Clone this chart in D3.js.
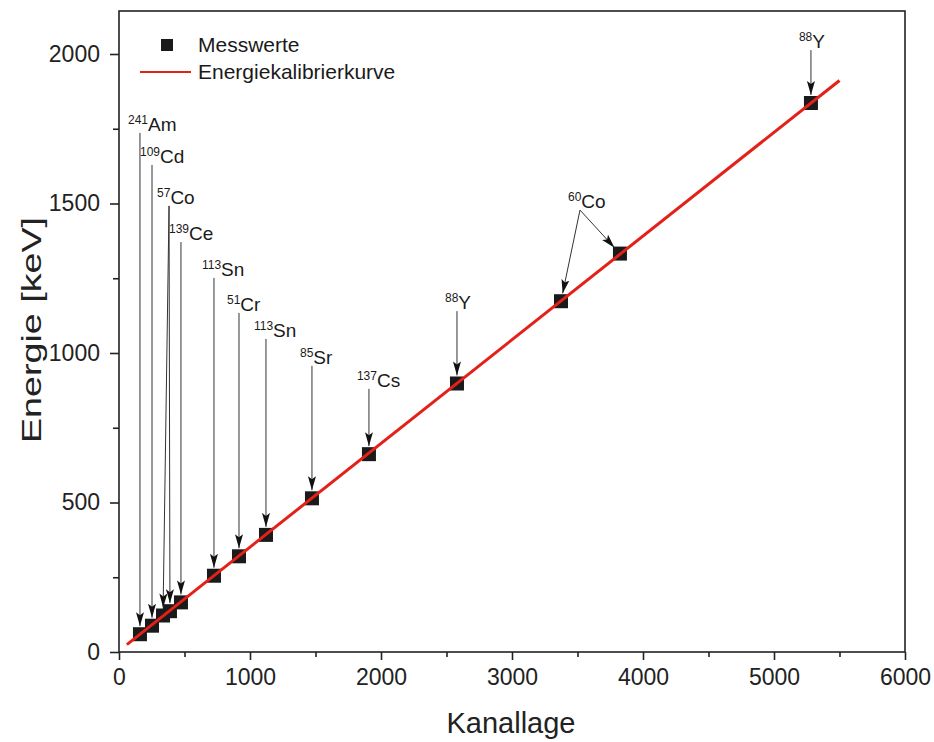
<!DOCTYPE html>
<html>
<head>
<meta charset="utf-8">
<script src="https://cdn.jsdelivr.net/npm/d3@7"></script>
<style>
  html, body { margin: 0; padding: 0; background: #fff; }
  svg { display: block; font-family: "Liberation Sans", Arial, sans-serif; }
</style>
</head>
<body>
<svg id="chart" width="934" height="742"></svg>
<script>
// Measured calibration peaks: channel position and known gamma energy (keV)
const nuclides  = ["241Am", "109Cd", "57Co", "57Co", "139Ce", "113Sn", "51Cr", "113Sn", "85Sr", "137Cs", "88Y", "60Co", "60Co", "88Y"];
const channels  = [160, 252, 336, 389, 473, 725, 916, 1122, 1473, 1908, 2580, 3374, 3824, 5282];
const energies  = [59.5, 88.0, 122.1, 136.5, 165.9, 255.1, 320.1, 391.7, 514.0, 661.7, 898.0, 1173.2, 1332.5, 1836.1];

// Linear calibration fit E = a + b * channel, drawn over this channel range
const fitIntercept = 4.0;
const fitSlope = 0.3468;
const fitRange = [60, 5500];

// Tick values
const xTicks = [0, 1000, 2000, 3000, 4000, 5000, 6000];
const yTicks = [0, 500, 1000, 1500, 2000];

// Annotation labels: mass number, element, label anchor (channel, energy), indices of points they point to
const labelMass    = ["241", "109", "57", "139", "113", "51", "113", "85", "137", "88", "60", "88"];
const labelElement = ["Am", "Cd", "Co", "Ce", "Sn", "Cr", "Sn", "Sr", "Cs", "Y", "Co", "Y"];
const labelChannel = [160, 252, 382, 473, 725, 916, 1122, 1473, 1908, 2580, 3519, 5282];
const labelEnergy  = [1736, 1629, 1492, 1371, 1251, 1134, 1047, 957, 880, 1140, 1478, 2013];
const labelTargets = [[0], [1], [2, 3], [4], [5], [6], [7], [8], [9], [10], [11, 12], [13]];

const svg = d3.select("#chart");
const margin = { left: 119, right: 29, top: 11, bottom: 90 };
const W = 934, H = 742;
const plotW = W - margin.left - margin.right;
const plotH = H - margin.top - margin.bottom;

const x = d3.scaleLinear().domain([0, 6000]).range([margin.left, margin.left + plotW]);
// y: 0 at bottom frame, 2000 placed ~43 px below frame top
const yTop = 2000 + 43 / ((H - margin.bottom - 54) / 2000);
const y = d3.scaleLinear().domain([0, yTop]).range([H - margin.bottom, margin.top]);

const defs = svg.append("defs");
defs.append("marker")
  .attr("id", "arrow")
  .attr("viewBox", "0 0 14 8")
  .attr("refX", 14).attr("refY", 4)
  .attr("markerWidth", 14).attr("markerHeight", 8)
  .attr("markerUnits", "userSpaceOnUse")
  .attr("orient", "auto")
  .append("path")
  .attr("d", "M0,0 L14,4 L0,8 L3,4 Z")
  .attr("fill", "#111");

// Frame
svg.append("rect")
  .attr("x", margin.left).attr("y", margin.top)
  .attr("width", plotW).attr("height", plotH)
  .attr("fill", "none").attr("stroke", "#222").attr("stroke-width", 1.6);

// Axes
const xAxis = d3.axisBottom(x).tickValues(xTicks).tickSize(8).tickPadding(9).tickFormat(d3.format("d"));
const xMinor = d3.axisBottom(x).tickValues(d3.range(500, 6000, 1000)).tickSize(5).tickFormat("");
const yAxis = d3.axisLeft(y).tickValues(yTicks).tickSize(9).tickPadding(10).tickFormat(d3.format("d"));
const yMinor = d3.axisLeft(y).tickValues(d3.range(250, 2000, 500)).tickSize(6).tickFormat("");

function styleAxis(g) {
  g.select(".domain").remove();
  g.selectAll("line").attr("stroke", "#222").attr("stroke-width", 1.6);
  g.selectAll("text").attr("fill", "#222").style("font-size", "23px").style("font-family", "'Liberation Sans', Arial, sans-serif");
}

svg.append("g").attr("transform", `translate(0,${H - margin.bottom})`).call(xAxis).call(styleAxis);
svg.append("g").attr("transform", `translate(0,${H - margin.bottom})`).call(xMinor).call(styleAxis);
svg.append("g").attr("transform", `translate(${margin.left},0)`).call(yAxis).call(styleAxis);
svg.append("g").attr("transform", `translate(${margin.left},0)`).call(yMinor).call(styleAxis);

// Axis titles
svg.append("text")
  .attr("x", x(3000) - 1).attr("y", 733)
  .attr("text-anchor", "middle")
  .attr("fill", "#222")
  .style("font-size", "29px")
  .text("Kanallage");
svg.append("text")
  .attr("transform", `translate(41,330) rotate(-90)`)
  .attr("text-anchor", "middle")
  .attr("fill", "#222")
  .attr("textLength", 226)
  .attr("lengthAdjust", "spacingAndGlyphs")
  .style("font-size", "28px")
  .text("Energie [keV]");

// Calibration line
const fitLine = d3.line().x(d => x(d)).y(d => y(fitIntercept + fitSlope * d));

// Measured points
const pts = channels.map((c, i) => ({ c, e: energies[i], n: nuclides[i] }));
const sq = 14;
svg.append("g").selectAll("rect")
  .data(pts).join("rect")
  .attr("x", d => x(d.c) - sq / 2)
  .attr("y", d => y(d.e) - sq / 2)
  .attr("width", sq).attr("height", sq)
  .attr("fill", "#1a1a1a");

// Fit line drawn over the markers
svg.append("path")
  .datum(fitRange)
  .attr("d", fitLine)
  .attr("fill", "none")
  .attr("stroke", "#e32119")
  .attr("stroke-width", 3);

// Annotations with arrows
const ann = svg.append("g");
labelMass.forEach((m, i) => {
  const lx = x(labelChannel[i]);
  const ly = y(labelEnergy[i]);
  labelTargets[i].forEach(t => {
    const tx = x(channels[t]);
    const ty = y(energies[t]);
    const dx = tx - lx, dy = ty - ly;
    const len = Math.hypot(dx, dy);
    const stop = len - (sq / 2 + 1);
    ann.append("line")
      .attr("x1", lx).attr("y1", ly)
      .attr("x2", lx + dx * stop / len).attr("y2", ly + dy * stop / len)
      .attr("stroke", "#333").attr("stroke-width", 1)
      .attr("marker-end", "url(#arrow)");
  });
  const t = ann.append("text")
    .attr("x", lx - 12).attr("y", ly - 2)
    .attr("fill", "#1a1a1a")
    .style("font-size", "19px");
  t.append("tspan").attr("dy", "-7").style("font-size", "12px").text(m);
  t.append("tspan").attr("dy", "7").text(labelElement[i]);
});

// Legend
const leg = svg.append("g");
leg.append("rect").attr("x", 161).attr("y", 39).attr("width", 12).attr("height", 12).attr("fill", "#1a1a1a");
leg.append("text").attr("x", 198).attr("y", 52).attr("fill", "#1a1a1a").style("font-size", "21px").text("Messwerte");
leg.append("line").attr("x1", 140).attr("x2", 191).attr("y1", 72).attr("y2", 72).attr("stroke", "#e32119").attr("stroke-width", 2);
leg.append("text").attr("x", 198).attr("y", 79).attr("fill", "#1a1a1a").style("font-size", "21px").text("Energiekalibrierkurve");
</script>
</body>
</html>
